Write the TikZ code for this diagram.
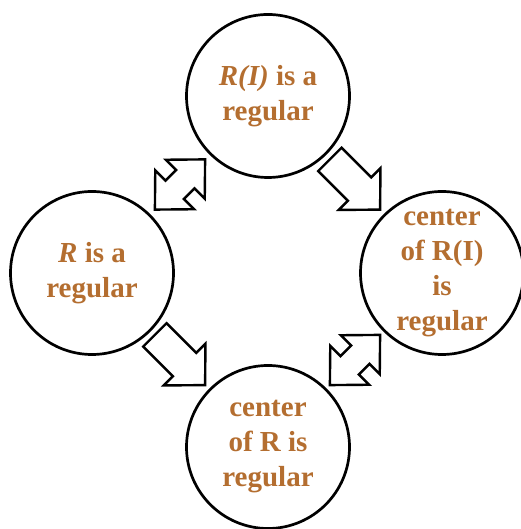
\documentclass[tikz,border=0pt]{standalone}
\usepackage{fontspec}
\setmainfont{Liberation Serif}
\usetikzlibrary{calc}
\definecolor{txtbrown}{RGB}{180,110,48}
\tikzset{
  x=1pt,y=1pt,
  bubble/.style={circle,draw=black,line width=2.7pt,fill=white,minimum size=163pt,inner sep=0pt,
    align=center,text=txtbrown,font=\fontsize{29}{35}\selectfont\bfseries},
  blockline/.style={draw=black,line width=2.4pt,fill=white,line join=miter},
  sarrow/.pic={\path[blockline] (-35.5,-16.5) -- (6.5,-16.5) -- (6.5,-29.5) -- (35.5,0) -- (6.5,29.5) -- (6.5,16.5) -- (-35.5,16.5) -- cycle;},
  darrow/.pic={\path[blockline] (-35.5,0) -- (-7.5,27.5) -- (-7.5,13) -- (7.5,13) -- (7.5,27.5) -- (35.5,0) -- (7.5,-27.5) -- (7.5,-13) -- (-7.5,-13) -- (-7.5,-27.5) -- cycle;}
}
\begin{document}
\begin{tikzpicture}
\useasboundingbox (0,0) rectangle (520,529);
\node[bubble] (top) at (268,433) {\textit{R(I)} is a\\regular};
\node[bubble] (left) at (92,256) {\textit{R} is a\\regular};
\node[bubble] (right) at (442,256) {center\\of R(I)\\is\\regular};
\node[bubble] (bottom) at (268,82) {center\\of R is\\regular};
\path ($(top)!0.5!(right)$) pic[rotate=-45] {sarrow};
\path ($(left)!0.5!(bottom)$) pic[rotate=-45] {sarrow};
\path ($(left)!0.5!(top)$) pic[rotate=45] {darrow};
\path ($(bottom)!0.5!(right)$) pic[rotate=45] {darrow};
\end{tikzpicture}
\end{document}
